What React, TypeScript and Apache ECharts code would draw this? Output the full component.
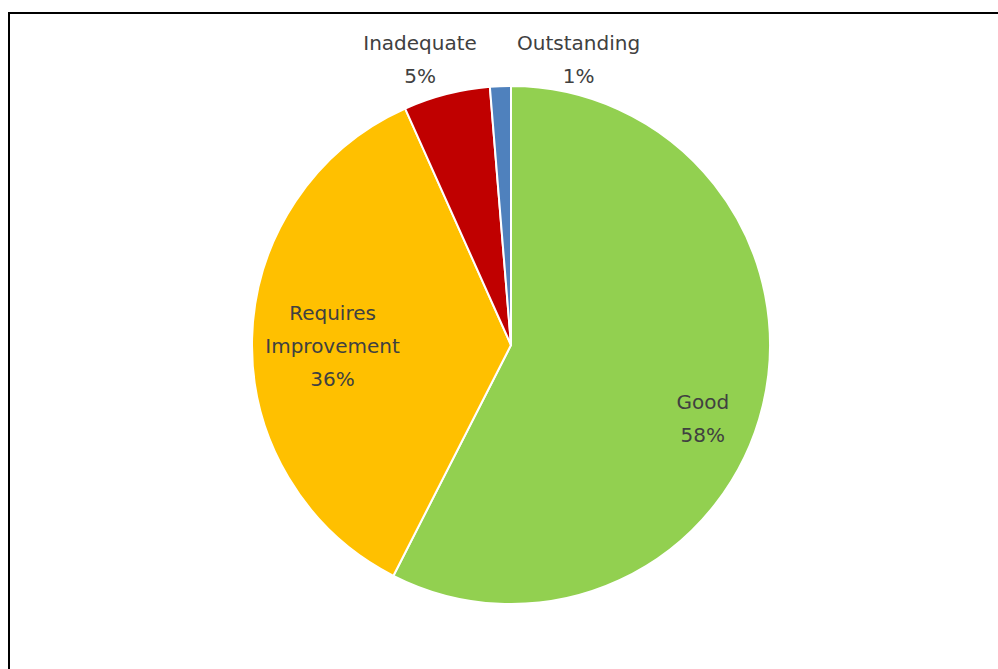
import React, { useEffect, useRef } from "react";
import * as echarts from "echarts";

const categories = ["Good", "Requires Improvement", "Inadequate", "Outstanding"];
const values = [57.5, 35.8, 5.4, 1.3];
const colors = ["#92D050", "#FFC000", "#C00000", "#4F81BD"];
const labelTexts = ["Good", "Requires\nImprovement", "Inadequate", "Outstanding"];
const labelOffsets: [number, number][] = [
  [63, 43],
  [-46, 4],
  [-58, -157],
  [73, -153],
];

export default function App() {
  const ref = useRef<HTMLDivElement>(null);
  useEffect(() => {
    if (!ref.current) return;
    const chart = echarts.init(ref.current, undefined, { renderer: "svg" });
    chart.setOption({
      animation: false,
      backgroundColor: "#ffffff",
      graphic: [
        {
          type: "rect",
          shape: { x: 9, y: 13, width: 1000, height: 700 },
          style: { fill: "none", stroke: "#000000", lineWidth: 2 },
          silent: true,
        },
      ],
      series: [
        {
          type: "pie",
          center: [511, 345],
          radius: 259,
          startAngle: 90,
          clockwise: true,
          percentPrecision: 0,
          avoidLabelOverlap: false,
          labelLine: { show: false },
          itemStyle: { borderColor: "#ffffff", borderWidth: 2 },
          data: categories.map((name, i) => ({
            name,
            value: values[i],
            itemStyle: { color: colors[i] },
            label: {
              show: true,
              position: "inside",
              offset: labelOffsets[i],
              formatter: (p: any) => labelTexts[i] + "\n" + p.percent + "%",
              color: "#404040",
              fontFamily: "DejaVu Sans",
              fontSize: 20,
              lineHeight: 33,
              align: "center",
            },
          })),
        },
      ],
    });
    return () => chart.dispose();
  }, []);
  return (
    <div
      ref={ref}
      style={{ position: "fixed", left: 0, top: 0, width: 998, height: 669 }}
    />
  );
}
